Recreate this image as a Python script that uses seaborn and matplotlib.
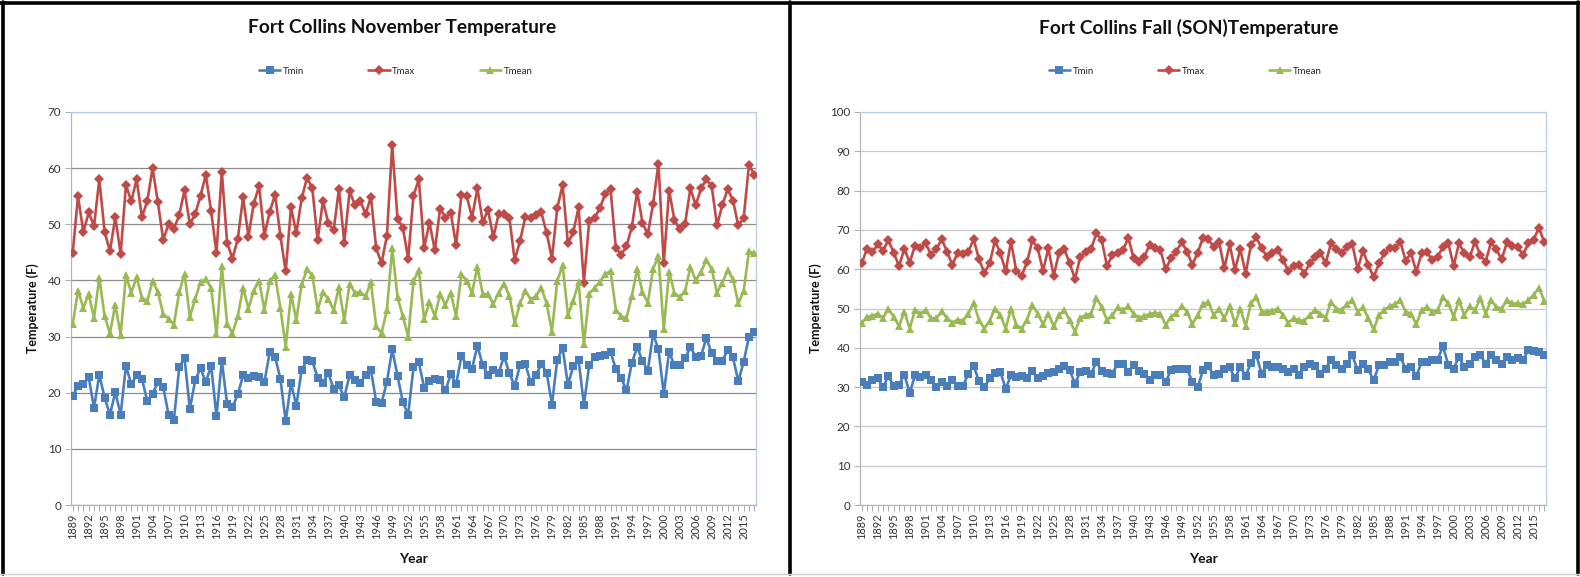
import numpy as np
import pandas as pd
import matplotlib
matplotlib.use("Agg")
import matplotlib.pyplot as plt
import seaborn as sns
from matplotlib.lines import Line2D
from matplotlib.ticker import MultipleLocator

years = list(range(1889, 2018))

nov_tmax = [44.9, 55.0, 48.6, 52.1, 49.7, 58.0, 48.6, 45.2, 51.3, 44.7, 57.0, 54.1, 58.0, 51.3, 54.1, 60.0,
            53.9, 47.2, 50.1, 49.2, 51.6, 56.1, 50.0, 51.8, 55.1, 58.8, 52.3, 44.9, 59.4, 46.7, 43.9, 47.4,
            54.8, 47.8, 53.7, 56.8, 48.0, 52.2, 55.3, 48.0, 41.6, 53.0, 48.4, 54.6, 58.3, 56.4, 47.2, 54.2,
            50.2, 48.9, 56.3, 46.7, 55.9, 53.4, 54.2, 51.8, 54.9, 45.7, 43.1, 47.9, 64.1, 51.0, 49.4, 43.9,
            55.1, 58.0, 45.8, 50.3, 45.4, 52.8, 51.2, 52.0, 46.3, 55.2, 55.0, 51.2, 56.4, 50.4, 52.5, 47.7,
            51.9, 51.8, 51.2, 43.6, 47.0, 51.3, 51.2, 51.6, 52.1, 48.5, 43.9, 52.9, 57.0, 46.6, 48.6, 53.0,
            39.6, 50.6, 51.1, 52.9, 55.4, 56.3, 45.8, 44.6, 46.1, 49.5, 55.8, 50.3, 48.2, 53.7, 60.8, 43.1,
            56.0, 50.8, 49.1, 50.1, 56.4, 53.4, 56.4, 58.0, 56.8, 49.8, 53.4, 56.3, 54.2, 49.8, 51.1, 60.6,
            58.8]
nov_tmean = [32.2, 38.2, 35.1, 37.6, 33.3, 40.5, 33.6, 30.6, 35.7, 30.3, 40.9, 37.8, 40.6, 36.9, 36.3, 39.9,
             37.9, 34.0, 33.2, 32.1, 37.9, 41.2, 33.5, 36.7, 39.7, 40.2, 38.7, 30.4, 42.5, 32.3, 30.6, 33.6,
             38.7, 35.0, 38.2, 39.9, 34.8, 39.9, 40.9, 35.1, 28.2, 37.5, 33.0, 39.3, 42.0, 40.9, 34.8, 37.9,
             36.7, 34.7, 38.8, 32.9, 39.4, 37.8, 37.9, 37.2, 39.7, 31.8, 30.6, 34.7, 45.7, 37.0, 33.6, 30.0,
             39.9, 41.8, 33.1, 36.1, 33.7, 37.5, 35.7, 37.8, 33.6, 41.1, 39.9, 37.8, 42.4, 37.6, 37.5, 35.8,
             37.8, 39.4, 37.3, 32.4, 35.9, 38.2, 36.6, 37.2, 38.7, 35.9, 30.9, 39.9, 42.7, 33.9, 36.3, 39.7,
             28.6, 37.6, 38.7, 39.7, 41.1, 41.7, 34.8, 33.6, 33.3, 37.2, 42.0, 37.9, 36.0, 42.1, 44.3, 31.3,
             41.5, 37.8, 37.0, 38.1, 42.4, 40.0, 41.5, 43.7, 42.0, 37.8, 39.6, 41.8, 40.2, 35.9, 38.1, 45.2,
             44.8]
nov_tmin = [19.5, 21.2, 21.6, 22.8, 17.3, 23.2, 19.1, 16.1, 20.1, 16.1, 24.8, 21.5, 23.1, 22.5, 18.5, 19.8,
            21.9, 21.0, 16.1, 15.1, 24.5, 26.2, 17.1, 22.2, 24.4, 21.9, 24.8, 15.8, 25.7, 18.0, 17.4, 19.7,
            23.1, 22.6, 22.9, 22.8, 21.9, 27.2, 26.4, 22.5, 14.9, 21.7, 17.7, 24.1, 25.8, 25.6, 22.7, 21.7,
            23.5, 20.7, 21.3, 19.2, 23.1, 22.3, 21.8, 23.1, 24.1, 18.3, 18.2, 21.9, 27.7, 23.0, 18.3, 16.1,
            24.5, 25.4, 20.9, 22.0, 22.5, 22.2, 20.4, 23.3, 21.5, 26.5, 24.9, 24.3, 28.4, 24.9, 23.1, 24.1,
            23.5, 26.5, 23.5, 21.2, 24.9, 25.1, 21.9, 23.1, 25.1, 23.6, 17.9, 25.9, 28.0, 21.4, 24.7, 25.8,
            17.9, 24.9, 26.3, 26.5, 26.8, 27.3, 24.2, 22.6, 20.4, 25.3, 28.1, 25.7, 23.9, 30.5, 27.7, 19.8,
            27.3, 24.9, 25.0, 26.1, 28.1, 26.4, 26.5, 29.8, 27.0, 25.7, 25.7, 27.6, 26.3, 22.0, 25.5, 30.0,
            30.8]

fall_tmax = [61.5, 65.2, 64.3, 66.3, 64.7, 67.4, 64.2, 60.8, 65.2, 61.7, 66.0, 65.5, 66.6, 63.6, 65.1, 67.6,
             64.5, 61.1, 64.2, 63.9, 64.5, 67.6, 62.5, 59.1, 61.5, 67.3,
             64.0, 59.5, 67.0, 59.5, 58.3, 61.8, 67.4, 65.3, 59.6, 65.3, 58.3, 64.2, 65.1, 61.5, 57.5, 63.2,
             64.3, 65.1, 69.1, 67.4, 60.8, 63.6, 64.2, 64.9, 68.0, 62.8, 61.9, 63.2, 66.2, 65.5, 64.9, 60.0,
             62.8, 64.5, 66.9, 64.5, 61.1, 64.2, 68.0, 67.6, 65.7, 67.0, 60.2, 66.3, 59.8, 65.1, 58.9, 66.2,
             68.1, 65.3, 63.2, 64.0, 64.9, 62.3, 59.6, 60.8, 61.1, 58.9, 61.5, 63.0, 64.2, 61.5, 66.6, 65.1,
             64.0, 65.6, 66.4, 60.0, 64.7, 61.1, 57.9, 61.5, 64.0, 65.5, 65.3, 67.0, 62.2, 64.0, 59.4, 64.0,
             64.3, 62.3, 63.2, 65.7, 66.6, 60.8, 66.6, 64.0, 63.0, 67.0, 63.6, 61.9, 66.8, 65.1, 62.5, 66.8,
             65.9, 65.7, 63.6, 66.6, 67.5, 70.6, 66.8]
fall_tmean = [46.2, 47.9, 48.1, 48.7, 47.5, 50.0, 47.9, 45.5, 49.2, 44.9, 49.6, 48.7, 49.6, 47.5, 47.5, 49.3,
              47.5, 46.4, 47.2, 46.9, 48.7, 51.5, 47.0, 44.9, 46.9, 50.0,
              48.3, 44.9, 50.0, 45.8, 44.9, 47.2, 50.9, 48.7, 46.0, 48.7, 45.5, 48.3, 49.6, 47.0, 44.1, 47.7,
              48.3, 48.7, 52.6, 50.4, 47.0, 48.3, 50.3, 49.6, 50.6, 48.6, 47.7, 48.1, 48.6, 48.9, 48.7, 45.8,
              47.9, 48.9, 50.6, 49.2, 46.0, 48.3, 51.1, 51.7, 48.3, 50.0, 47.5, 50.6, 46.2, 50.0, 45.5, 51.3,
              53.0, 49.2, 49.2, 49.4, 50.0, 48.3, 46.4, 47.5, 47.0, 46.9, 48.3, 49.6, 48.7, 47.7, 51.7, 50.0,
              49.6, 51.1, 52.1, 49.2, 50.3, 47.5, 44.7, 48.3, 49.6, 50.6, 51.1, 52.1, 49.2, 48.7, 46.0, 49.6,
              50.3, 49.2, 49.6, 52.8, 51.3, 47.9, 52.1, 48.3, 50.6, 49.6, 52.6, 48.7, 52.1, 50.4, 50.0, 52.1,
              51.3, 51.3, 51.1, 52.1, 53.5, 55.2, 52.0]
fall_tmin = [31.3, 30.6, 31.7, 32.2, 30.0, 32.8, 30.3, 30.6, 33.2, 28.5, 33.0, 32.6, 33.0, 31.7, 29.9, 31.3,
             30.3, 31.7, 30.3, 30.3, 33.4, 35.4, 31.5, 29.9, 32.2, 33.6,
             33.9, 29.6, 33.0, 32.6, 32.8, 32.2, 34.1, 32.2, 32.8, 33.6, 33.9, 34.7, 35.3, 34.3, 30.9, 33.9,
             34.1, 33.3, 36.4, 34.1, 33.6, 33.4, 36.0, 36.0, 33.9, 35.6, 34.1, 33.4, 31.7, 33.0, 33.2, 31.3,
             34.3, 34.5, 34.7, 34.7, 31.3, 30.0, 34.3, 35.4, 33.0, 33.4, 34.7, 35.0, 32.2, 35.1, 32.8, 36.2,
             38.1, 33.4, 35.6, 35.1, 35.1, 34.7, 33.9, 34.5, 33.0, 35.1, 35.8, 35.3, 33.4, 34.7, 37.0, 35.6,
             34.7, 36.0, 38.1, 34.3, 36.0, 34.5, 31.7, 35.6, 35.6, 36.4, 36.4, 37.7, 34.7, 35.1, 32.8, 36.4,
             36.4, 36.8, 37.0, 40.4, 35.6, 34.7, 37.7, 35.1, 35.8, 37.7, 38.1, 36.0, 38.1, 37.0, 36.0, 37.7,
             37.0, 37.3, 36.8, 39.5, 39.3, 38.9, 38.2]

series_names = ["Tmin", "Tmax", "Tmean"]
palette = {"Tmin": "#4A7EBB", "Tmax": "#BE4B48", "Tmean": "#98B954"}
markers = {"Tmin": "s", "Tmax": "D", "Tmean": "^"}
msize = {"s": 6.0, "D": 4.6, "^": 6.4}

sns.set_theme(style="white")
plt.rcParams["font.family"] = ["Lato", "DejaVu Sans"]

W, H = 1580, 577
fig = plt.figure(figsize=(W / 100, H / 100), dpi=100)


def fx(px):
    return px / W


def fy(py):
    return 1 - py / H


def panel(ax, tmin, tmax, tmean, ymax, title, gridc, cx):
    n = len(years)
    df = pd.DataFrame({
        "Year": years * 3,
        "Temp": tmin + tmax + tmean,
        "Series": ["Tmin"] * n + ["Tmax"] * n + ["Tmean"] * n,
    })
    sns.lineplot(data=df, x="Year", y="Temp", hue="Series", style="Series",
                 hue_order=series_names, style_order=series_names,
                 palette=palette, markers=markers, dashes=False,
                 linewidth=1.9, markeredgewidth=0, ax=ax, legend=True, zorder=3)
    for ln in ax.lines:
        m = ln.get_marker()
        if m in msize:
            ln.set_markersize(msize[m])
    ax.set_xlim(1888.68, 2017.32)
    ax.set_ylim(0, ymax)
    ax.set_yticks(range(0, ymax + 1, 10))
    ax.set_xticks(years[::3])
    ax.set_xticklabels([str(y) for y in years[::3]], rotation=90)
    ax.xaxis.set_minor_locator(MultipleLocator(1))
    ax.tick_params(axis="x", which="both", direction="out", length=4, width=0.6,
                   color="#A0A0A0", labelsize=7.9, labelcolor="#333333", pad=2,
                   bottom=True)
    ax.tick_params(axis="y", which="major", direction="out", length=4, width=0.6,
                   color="#A0A0A0", labelsize=8.4, labelcolor="#333333", pad=3, left=True)
    ax.grid(axis="y", color=gridc, linewidth=0.9, zorder=0)
    ax.grid(axis="x", visible=False)
    ax.set_axisbelow(True)
    for s in ["top", "right"]:
        ax.spines[s].set_color("#B9CDE5")
        ax.spines[s].set_linewidth(0.9)
    for s in ["left", "bottom"]:
        ax.spines[s].set_color("#B5B5B5")
        ax.spines[s].set_linewidth(0.9)
    ax.set_xlabel("Year", fontsize=10, fontweight="bold", labelpad=10, color="#111111")
    ax.set_ylabel("Temperature (F)", fontsize=9, fontweight="bold", labelpad=6, color="#111111")
    handles, labels = ax.get_legend_handles_labels()
    ax.legend(handles, labels, loc="center", bbox_to_anchor=(0.474, 1.104), ncol=3,
              frameon=False, fontsize=7, columnspacing=6.6, handlelength=2.2,
              handletextpad=0.25, borderaxespad=0)
    fig.text(cx, fy(28), title, ha="center", va="center", fontsize=13.8,
             fontweight="bold", color="#111111")


ax1 = fig.add_axes([fx(71), fy(505), fx(685), 393 / H])
ax2 = fig.add_axes([fx(860), fy(505), fx(686), 393 / H])

panel(ax1, nov_tmin, nov_tmax, nov_tmean, 70, "Fort Collins November Temperature", "#8C8C8C", fx(402))
panel(ax2, fall_tmin, fall_tmax, fall_tmean, 100, "Fort Collins Fall (SON)Temperature", "#C8C8C8", fx(1189))

# chart frames
fig.add_artist(Line2D([0, 1], [fy(2.5), fy(2.5)], color="black", lw=2.6, transform=fig.transFigure))
for xp in [2.5, 790, 1577.5]:
    fig.add_artist(Line2D([fx(xp), fx(xp)], [fy(2), fy(574)], color="black", lw=2.6,
                          transform=fig.transFigure))
fig.add_artist(Line2D([0, 1], [fy(574), fy(574)], color="#D0D0D0", lw=1.0, transform=fig.transFigure))

fig.savefig("out.png", dpi=100, facecolor="white")
